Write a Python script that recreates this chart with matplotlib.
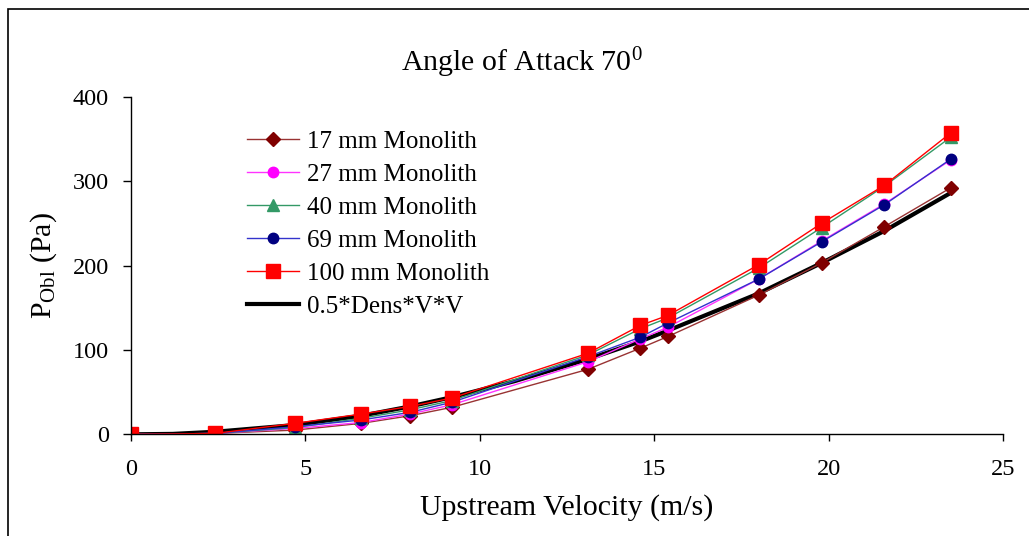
import matplotlib
matplotlib.use("Agg")
import matplotlib.pyplot as plt
from matplotlib.patches import Rectangle

plt.rcParams['font.family'] = ['Liberation Serif', 'DejaVu Serif']
plt.rcParams['mathtext.fontset'] = 'custom'
plt.rcParams['mathtext.rm'] = 'Liberation Serif'
plt.rcParams['mathtext.it'] = 'Liberation Serif:italic'

velocity = [0, 2.4, 4.7, 6.6, 8.0, 9.2, 13.1, 14.6, 15.4, 18.0, 19.8, 21.6, 23.5]
mono17 = [0, 1, 5, 13, 22, 32, 77, 102, 116, 165, 203, 246, 292]
mono27 = [0, 1, 7, 14, 24, 35, 86, 113, 127, 184, 229, 273, 325]
mono40 = [0, 1, 8, 19, 29, 40, 94, 125, 138, 197, 245, 294, 352]
mono69 = [0, 1, 9, 17, 26, 38, 92, 115, 132, 184, 228, 272, 326]
mono100 = [0, 1, 13, 24, 33, 43, 96, 129, 141, 201, 250, 295, 357]

theory_v = [0, 1.2, 2.4, 4.7, 6.6, 8.0, 9.2, 11.0, 13.1, 14.6, 15.4, 18.0, 19.8, 21.6, 23.5]
theory_p = [0, 0.5, 3, 11, 22, 33, 44, 63, 89, 110, 123, 167, 203, 241, 286]

labels = ['17 mm Monolith', '27 mm Monolith', '40 mm Monolith',
          '69 mm Monolith', '100 mm Monolith', '0.5*Dens*V*V']

fig = plt.figure(figsize=(10.29, 5.36), dpi=100)
ax = fig.add_axes([0.1273, 0.1897, 0.8474, 0.6299])

h_theory, = ax.plot(theory_v, theory_p, color='black', lw=3, zorder=1.5)
h17, = ax.plot(velocity, mono17, color='#993333', lw=1, marker='D', ms=7,
               mfc='#800000', mec='#800000', zorder=2)
h27, = ax.plot(velocity, mono27, color='#FF33FF', lw=1, marker='o', ms=7.5,
               mfc='#FF00FF', mec='#FF00FF', zorder=2)
h40, = ax.plot(velocity, mono40, color='#339966', lw=1, marker='^', ms=8,
               mfc='#339966', mec='#339966', zorder=2)
h69, = ax.plot(velocity, mono69, color='#3333CC', lw=1, marker='o', ms=7.5,
               mfc='#000080', mec='#000080', zorder=2.1)
h100, = ax.plot(velocity, mono100, color='#FF0000', lw=1, marker='s', ms=10,
                mfc='#FF0000', mec='#FF0000', zorder=2.2)

ax.set_xlim(0, 25)
ax.set_ylim(0, 400)
ax.set_xticks([0, 5, 10, 15, 20, 25])
ax.set_yticks([0, 100, 200, 300, 400])
for s in ['top', 'right']:
    ax.spines[s].set_visible(False)
for s in ['left', 'bottom']:
    ax.spines[s].set_linewidth(1.0)
ax.tick_params(axis='both', direction='out', width=1, labelsize=17.5)
ax.tick_params(axis='x', length=5, pad=13)
ax.tick_params(axis='y', length=6, pad=10)

ax.set_xlabel('Upstream Velocity (m/s)', fontsize=21.5, labelpad=10)
ax.set_ylabel(r'P$_{\mathrm{Obl}}$ (Pa)', fontsize=21.5, labelpad=10)

fig.text(0.507, 0.882, r'Angle of Attack 70$^{0}$', fontsize=21.5,
         ha='center', va='center')

leg = ax.legend([h17, h27, h40, h69, h100, h_theory], labels,
                loc='upper left', bbox_to_anchor=(0.230, 0.775),
                bbox_transform=fig.transFigure, frameon=False,
                fontsize=18, handlelength=2.1, handletextpad=0.32,
                labelspacing=0.42, borderaxespad=0)

fig.patches.append(Rectangle((8 / 1029, -0.5), 2.0, 1.5 - 9 / 536,
                             transform=fig.transFigure, fill=False,
                             edgecolor='black', lw=1.2))

fig.savefig('out.png', dpi=100)
